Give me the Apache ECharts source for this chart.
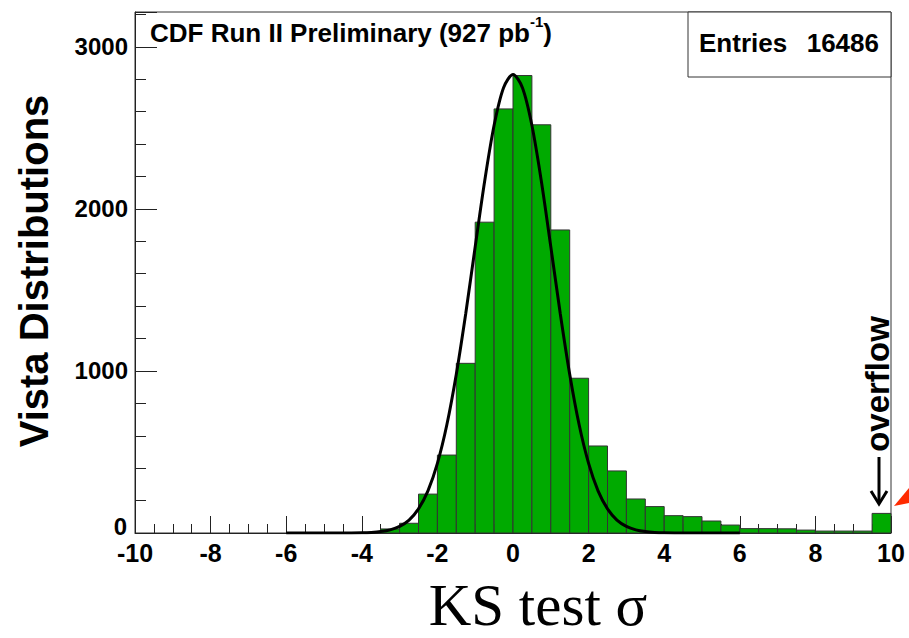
<!DOCTYPE html>
<html><head><meta charset="utf-8">
<script src="https://cdn.jsdelivr.net/npm/echarts@6/dist/echarts.min.js"></script>
<style>html,body{margin:0;padding:0;background:#fff}#c{width:909px;height:638px}</style>
</head><body><div id="c"></div>
<script>
// Histogram binning (axis range and bin width)
const xMin = -10;
const binWidth = 0.5;
// Bin contents, bins from -10 to 10 in steps of 0.5 (last bin = overflow)
const counts = [
  0, 0, 0, 0,
  0, 0, 0, 0,
  0, 0, 0, 0,
  4, 25, 60, 240,
  481, 1047, 1918, 2617,
  2823, 2519, 1870, 955,
  537, 383, 210, 163,
  107, 101, 74, 49,
  27, 27, 26, 18,
  12, 12, 12, 121
];
// Fit curve
const curveX = [-6, -5.5, -5, -4.5, -4, -3.75, -3.5, -3.25, -3, -2.75, -2.5, -2.25, -2, -1.75, -1.5, -1.25, -1, -0.75, -0.5, -0.25,
  0, 0.25, 0.5, 0.75, 1, 1.25, 1.5, 1.75, 2, 2.25, 2.5, 2.75, 3, 3.25, 3.5, 3.75, 4, 4.5, 5, 5.5, 6];
const curveY = [0, 0, 0, 0, 1.5, 3.7, 8.8, 19.5, 41, 80, 149, 260, 430, 668, 980, 1355, 1767, 2171, 2516, 2748,
  2830, 2748, 2516, 2171, 1767, 1355, 980, 668, 430, 260, 149, 80, 41, 19.5, 8.8, 3.7, 1.5, 0, 0, 0, 0];
const xTicks = { min: -10, max: 10, interval: 2 };
const yTicks = { min: 0, max: 3215, interval: 1000 };
const yZeroLabel = '0';
const titleText = 'CDF Run II Preliminary (927 pb';
const entriesLabel = 'Entries';
const entriesValue = '16486';
const yTitle = 'Vista Distributions';
const xTitle = 'KS test σ';
const overflowText = 'overflow';

const histData = counts.map((c, i) => [xMin + i * binWidth, xMin + (i + 1) * binWidth, c]);
const curveData = curveX.map((x, i) => [x, curveY[i]]);

const FONT = 'Liberation Sans, Arial, Helvetica, sans-serif';
const chart = echarts.init(document.getElementById('c'), null, { renderer: 'svg' });
chart.setOption({
  animation: false,
  backgroundColor: '#fff',
  grid: { left: 135, right: 18, top: 12, bottom: 105, show: true, borderColor: '#333', borderWidth: 1 },
  xAxis: {
    type: 'value', min: xTicks.min, max: xTicks.max, interval: xTicks.interval,
    axisLine: { show: true, onZero: false, lineStyle: { color: '#222', width: 1 } },
    axisTick: { show: true, inside: true, length: 17, lineStyle: { color: '#222', width: 1 } },
    minorTick: { show: true, splitNumber: 4, length: 9, lineStyle: { color: '#222', width: 1 } },
    splitLine: { show: false },
    axisLabel: { fontFamily: FONT, fontWeight: 'bold', fontSize: 25, lineHeight: 20, color: '#000', margin: 10, formatter: v => String(v) }
  },
  yAxis: {
    type: 'value', min: yTicks.min, max: yTicks.max, interval: yTicks.interval,
    axisLine: { show: true, onZero: false, lineStyle: { color: '#222', width: 1 } },
    axisTick: { show: true, inside: true, length: 22, lineStyle: { color: '#222', width: 1 } },
    minorTick: { show: true, splitNumber: 5, length: 11, lineStyle: { color: '#222', width: 1 } },
    splitLine: { show: false },
    axisLabel: { fontFamily: FONT, fontWeight: 'bold', fontSize: 24, lineHeight: 18, color: '#000', margin: 7, showMaxLabel: false, showMinLabel: false, formatter: v => String(v) }
  },
  series: [
    {
      type: 'custom',
      data: histData,
      renderItem: function (params, api) {
        const x0 = api.value(0), x1 = api.value(1), y = api.value(2);
        if (!y) return null;
        const p0 = api.coord([x0, 0]);
        const p1 = api.coord([x1, y]);
        return {
          type: 'rect',
          shape: { x: p0[0], y: p1[1], width: p1[0] - p0[0], height: p0[1] - p1[1] },
          style: { fill: '#00aa00', stroke: '#333', lineWidth: 1 }
        };
      },
      z: 2
    },
    {
      type: 'line',
      data: curveData,
      smooth: 0.3,
      symbol: 'none',
      lineStyle: { color: '#000', width: 3 },
      z: 3
    }
  ],
  graphic: [
    { type: 'text', z: 10, x: 127, y: 526, style: { text: yZeroLabel, fontFamily: FONT, fontWeight: 'bold', fontSize: 24, fill: '#000', textAlign: 'right', textVerticalAlign: 'middle' } },
    {
      type: 'text', left: 150, top: 14, z: 10,
      style: {
        text: '{a|' + titleText + '}{s|-1}{a|)}',
        rich: {
          a: { fontFamily: FONT, fontWeight: 'bold', fontSize: 26, fill: '#000', lineHeight: 32, verticalAlign: 'bottom' },
          s: { fontFamily: FONT, fontWeight: 'bold', fontSize: 15, fill: '#000', lineHeight: 32, verticalAlign: 'top' }
        }
      }
    },
    { type: 'rect', z: 10, shape: { x: 688, y: 12, width: 203, height: 65 }, style: { fill: '#fff', stroke: '#333', lineWidth: 1 } },
    { type: 'text', z: 11, x: 699, y: 43, style: { text: entriesLabel, fontFamily: FONT, fontWeight: 'bold', fontSize: 26, fill: '#000', textAlign: 'left', textVerticalAlign: 'middle' } },
    { type: 'text', z: 11, x: 879, y: 43, style: { text: entriesValue, fontFamily: FONT, fontWeight: 'bold', fontSize: 26, fill: '#000', textAlign: 'right', textVerticalAlign: 'middle' } },
    { type: 'text', z: 11, x: 34, y: 271, rotation: Math.PI / 2, style: { text: yTitle, fontFamily: FONT, fontWeight: 'bold', fontSize: 40, fill: '#000', textAlign: 'center', textVerticalAlign: 'middle' } },
    { type: 'text', z: 11, x: 538, y: 605, style: { text: xTitle, fontFamily: 'Liberation Serif, Times New Roman, serif', fontSize: 59, lineHeight: 56, fill: '#000', textAlign: 'center', textVerticalAlign: 'middle' } },
    { type: 'text', z: 11, x: 877, y: 384, rotation: Math.PI / 2, style: { text: overflowText, fontFamily: FONT, fontWeight: 'bold', fontSize: 33, fill: '#000', textAlign: 'center', textVerticalAlign: 'middle' } },
    { type: 'line', z: 11, shape: { x1: 879, y1: 457, x2: 879, y2: 503 }, style: { stroke: '#000', lineWidth: 3 } },
    { type: 'polyline', z: 11, shape: { points: [[871, 491], [879, 504], [887, 491]] }, style: { stroke: '#000', lineWidth: 3, fill: null } },
    { type: 'polygon', z: 11, shape: { points: [[894, 506], [909, 488], [909, 503]] }, style: { fill: '#ff2a00', stroke: null } }
  ]
});
</script>
</body></html>
